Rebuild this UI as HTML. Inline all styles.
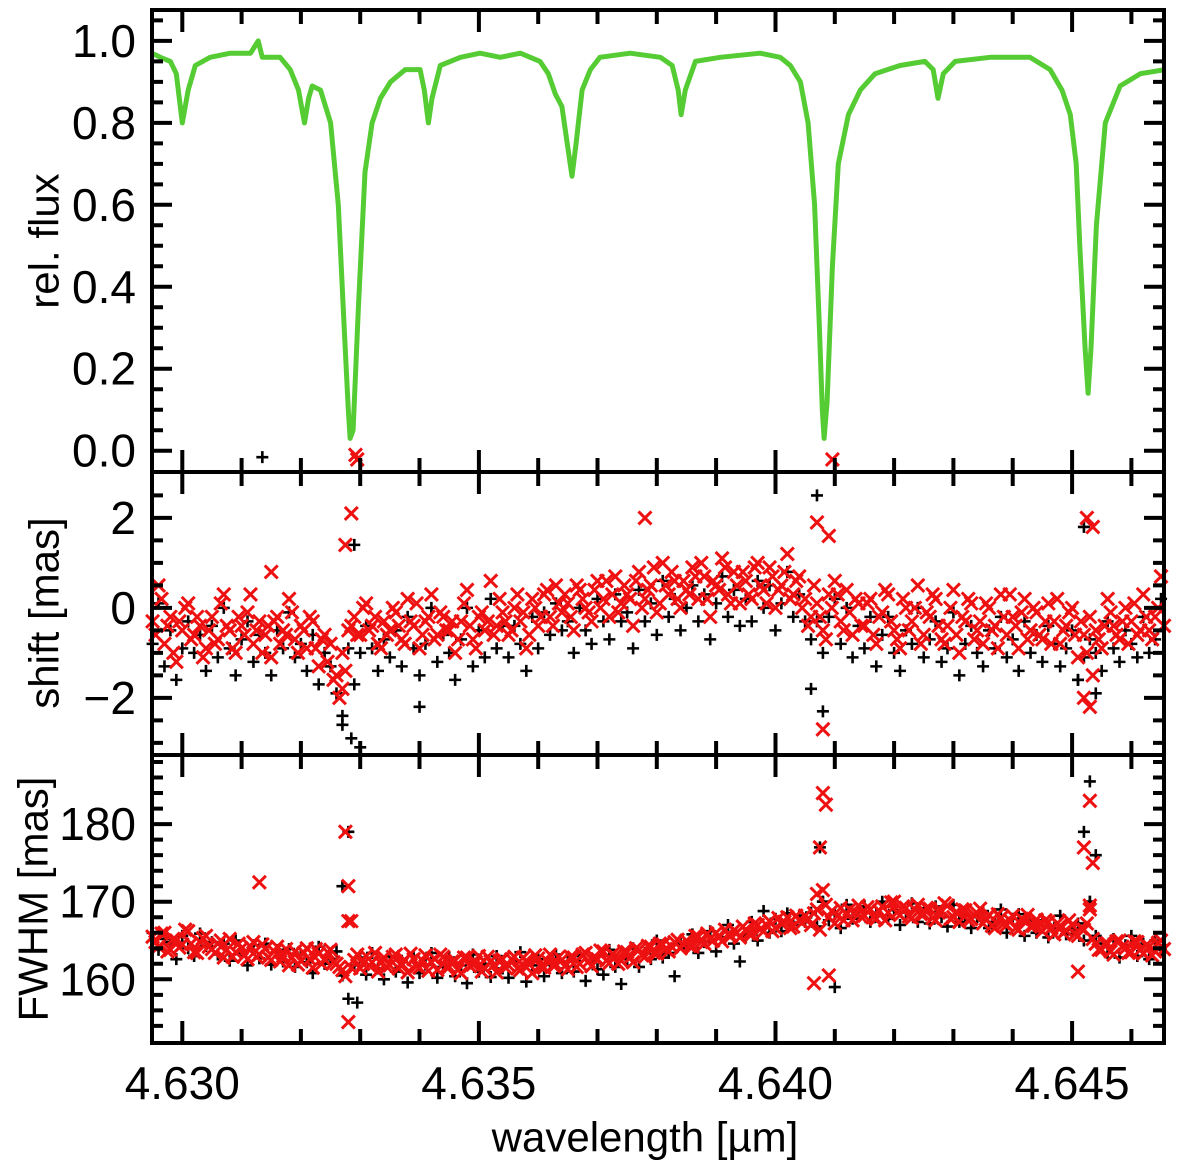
<!DOCTYPE html>
<html><head><meta charset="utf-8"><style>
html,body{margin:0;padding:0;background:#fff;}
svg{display:block;font-family:"Liberation Sans",sans-serif;}
</style></head><body>
<svg id="chart" width="1200" height="1167" viewBox="0 0 1200 1167" xmlns="http://www.w3.org/2000/svg"></svg>
<script>
// ---------- data ----------
const specWave = [4.62949,4.62963,4.62980,4.62990,4.63000,4.63010,4.63022,4.63047,4.63081,4.63115,4.63128,4.63135,4.63165,4.63182,4.63196,4.63206,4.63213,4.63219,4.63233,4.63250,4.63263,4.63273,4.63280,4.63283,4.63288,4.63297,4.63308,4.63320,4.63334,4.63351,4.63376,4.63401,4.63408,4.63415,4.63421,4.63435,4.63469,4.63502,4.63536,4.63570,4.63603,4.63617,4.63629,4.63640,4.63650,4.63657,4.63664,4.63674,4.63688,4.63704,4.63755,4.63806,4.63826,4.63836,4.63841,4.63848,4.63865,4.63907,4.63974,4.64008,4.64025,4.64042,4.64055,4.64066,4.64074,4.64079,4.64082,4.64087,4.64096,4.64106,4.64123,4.64143,4.64168,4.64210,4.64252,4.64266,4.64274,4.64283,4.64303,4.64362,4.64429,4.64463,4.64483,4.64497,4.64507,4.64513,4.64522,4.64527,4.64532,4.64541,4.64556,4.64581,4.64615,4.64657];
const specFlux = [0.97,0.96,0.95,0.92,0.80,0.88,0.94,0.96,0.97,0.97,1.0,0.96,0.96,0.93,0.88,0.80,0.86,0.89,0.88,0.80,0.60,0.30,0.10,0.03,0.05,0.35,0.68,0.80,0.86,0.90,0.93,0.93,0.88,0.80,0.86,0.94,0.96,0.97,0.96,0.97,0.95,0.92,0.87,0.84,0.74,0.67,0.75,0.88,0.93,0.96,0.97,0.96,0.94,0.88,0.82,0.88,0.95,0.96,0.97,0.96,0.94,0.90,0.80,0.60,0.30,0.10,0.03,0.12,0.45,0.70,0.82,0.88,0.92,0.94,0.95,0.93,0.86,0.92,0.95,0.96,0.96,0.93,0.88,0.82,0.70,0.50,0.25,0.14,0.25,0.55,0.80,0.89,0.92,0.93];

const gridStart = 4.6295;
const gridStep = 0.0001;
const gridStart2 = 4.62955;

const shiftRed = [-0.3,0.5,-0.8,-0.2,-1.2,-0.5,0.1,-0.6,-0.4,-0.9,
-0.2,-0.7,0.3,-0.5,-1.0,-0.4,-0.1,-0.8,-0.3,-0.6,
-1.1,-0.2,-0.5,0.2,-0.7,-0.4,-0.9,-0.3,-1.3,-0.6,
-0.8,-1.5,-1.8,-0.5,-0.2,-0.6,0.1,-0.4,-0.8,-0.3,
-0.5,-0.1,-0.7,0.2,-0.4,-0.9,-0.3,0.3,-0.6,-0.2,
-0.5,-1.0,-0.3,0.4,-0.7,-0.2,-0.5,0.6,-0.4,-0.1,
-0.6,0.0,-0.3,-0.9,0.2,-0.4,0.3,-0.2,0.5,-0.1,
0.1,-0.5,0.4,0.0,-0.3,0.6,0.2,-0.2,0.7,0.1,
0.3,-0.4,0.8,0.2,0.5,-0.1,1.0,0.3,0.6,0.0,
0.4,0.9,0.2,0.7,-0.2,0.5,1.1,0.3,0.8,0.1,
0.6,0.2,1.0,0.4,0.9,0.0,0.5,1.2,0.3,0.7,
0.2,-0.2,0.1,-0.5,0.3,0.6,-0.3,0.4,-0.6,0.1,
-0.4,0.2,-0.8,-0.1,0.3,-0.5,-0.9,0.0,-0.3,0.5,
-0.6,-0.2,0.2,-0.7,-0.4,0.4,-1.0,-0.3,0.1,-0.5,
-0.8,0.0,-0.4,0.3,-0.6,-0.2,-0.9,0.2,-0.5,-0.1,
-0.7,0.1,-0.3,-0.8,-0.4,0.0,-1.1,-0.6,-0.2,-0.5,
-0.9,0.2,-0.4,-0.7,0.0,-0.3,-0.6,0.3,-0.5,-0.2,0.7];
const shiftRed2 = [-0.6,0.2,-0.4,-1.0,-0.3,0.0,-0.7,-0.2,-1.1,-0.5,
-0.8,0.1,-0.4,-0.9,-0.2,-0.6,0.3,-0.5,-1.0,-0.4,
-0.3,-0.8,-0.6,-0.1,-1.0,-0.5,-0.2,-0.9,-0.7,-1.2,
-1.6,-2.0,-1.4,-0.4,-0.6,0.0,-0.5,-0.2,-0.9,-0.6,
0.0,-0.4,-0.8,-0.3,0.1,-0.6,-0.2,-0.7,-0.1,-0.5,
-0.3,-0.7,0.1,-0.4,-0.9,-0.1,-0.3,-0.6,0.2,-0.3,
-0.5,0.3,-0.1,-0.6,0.0,-0.2,0.4,-0.4,0.1,0.3,
-0.2,0.5,0.2,-0.1,0.4,0.0,0.6,0.3,-0.1,0.5,
0.2,0.6,0.0,0.4,0.9,0.1,0.5,0.8,0.2,0.6,
0.3,0.7,1.0,0.2,0.6,0.4,0.9,0.1,0.5,0.8,
0.3,0.9,0.5,0.1,0.7,0.4,0.8,0.2,0.6,0.0,
-0.4,0.5,-0.2,-0.7,0.0,0.3,-0.5,-0.1,0.2,-0.4,
0.1,-0.6,-0.2,0.4,-0.3,-0.7,0.2,-0.5,0.0,-0.8,
-0.1,0.3,-0.4,-0.8,0.0,-0.6,-0.2,0.2,-0.7,-0.3,
0.1,-0.5,-0.9,-0.2,0.3,-0.4,-0.1,-0.7,0.0,-0.6,
-0.3,-0.8,0.2,-0.5,-0.1,-0.6,-0.3,-1.0,-1.5,-0.7,
-0.4,-0.1,-0.6,-0.3,-0.8,0.1,-0.5,-0.2,-0.7,0.0,-0.4];
const shiftBlack = [-0.8,0.1,-1.3,-0.5,-1.6,-0.9,-0.3,-1.0,-0.6,-1.4,
-0.4,-1.1,0.0,-0.9,-1.5,-0.7,-0.3,-1.2,-0.6,-1.0,
-1.5,-0.5,-0.9,-0.1,-1.1,-0.8,-1.4,-0.6,-1.7,-1.0,
-1.3,-1.9,-2.4,-0.9,-1.7,-1.0,-0.4,-0.9,-1.4,-0.7,
-1.1,-0.5,-1.3,-0.2,-0.9,-1.5,-0.8,0.0,-1.2,-0.6,
-1.0,-1.6,-0.7,0.0,-1.3,-0.5,-1.1,0.2,-0.9,-0.4,
-1.1,-0.4,-0.8,-1.4,-0.2,-0.9,-0.1,-0.6,0.1,-0.5,
-0.3,-1.0,0.0,-0.5,-0.8,0.2,-0.3,-0.7,0.3,-0.3,
-0.1,-0.9,0.4,-0.3,0.1,-0.6,0.6,-0.2,0.2,-0.5,
0.0,0.5,-0.3,0.3,-0.7,0.1,0.7,-0.2,0.4,-0.4,
0.2,-0.3,0.6,0.0,0.5,-0.5,0.1,0.8,-0.2,0.3,
-0.3,-0.7,-0.3,-1.0,-0.2,0.2,-0.8,0.0,-1.1,-0.4,
-0.9,-0.2,-1.3,-0.6,-0.2,-1.0,-1.4,-0.5,-0.8,0.0,
-1.1,-0.7,-0.3,-1.2,-0.9,-0.1,-1.5,-0.8,-0.4,-1.0,
-1.3,-0.5,-0.9,-0.2,-1.1,-0.7,-1.4,-0.3,-1.0,-0.6,
-1.2,-0.4,-0.8,-1.3,-0.9,-0.5,-1.6,-1.1,-0.7,-1.0,
-1.4,-0.3,-0.9,-1.2,-0.5,-0.8,-1.1,-0.2,-1.0,-0.7,0.2];
const fwhmRed = [165.5,164.2,166.0,163.8,165.0,164.5,166.2,163.5,164.8,165.6,
163.9,164.6,162.8,165.2,163.5,164.0,162.6,164.8,163.2,163.9,
162.5,164.2,163.0,161.8,163.6,162.4,164.0,161.5,163.3,162.6,
163.8,162.0,161.2,167.5,162.5,161.4,163.0,162.2,161.0,162.8,
161.8,163.2,162.0,160.9,162.6,161.5,163.1,162.2,161.2,162.9,
161.6,162.4,160.8,162.8,161.9,163.0,161.4,162.3,160.9,162.6,
161.8,162.9,161.2,162.4,160.8,162.7,161.5,163.2,161.9,162.5,
161.3,162.8,162.0,163.4,161.7,162.6,163.6,162.1,163.0,162.4,
163.5,162.2,163.8,162.9,164.2,163.3,164.5,163.6,164.8,164.0,
165.0,164.2,165.5,164.6,165.2,166.0,164.9,165.8,166.3,165.4,
166.4,165.8,167.0,166.2,167.5,166.6,167.2,168.0,166.8,167.6,
168.2,167.0,169.0,171.5,168.0,167.2,169.2,168.4,167.6,169.5,
168.2,169.0,167.8,169.4,168.6,170.0,168.3,169.2,167.9,169.6,
168.4,169.1,167.6,168.8,169.5,168.0,167.4,168.9,167.8,168.5,
167.2,168.3,166.6,167.9,167.0,168.2,166.4,167.5,166.8,167.7,
166.2,167.4,165.8,166.9,166.3,167.0,165.6,166.4,169.0,164.6,
163.8,164.6,163.2,165.0,164.0,163.5,164.8,163.3,164.2,163.6,165.0];
const fwhmRed2 = [164.8,165.9,163.6,165.2,164.1,166.4,164.6,163.4,165.3,164.2,
163.4,165.0,163.8,162.9,164.6,163.1,164.2,162.9,164.5,162.8,
163.6,162.3,163.9,162.8,161.9,163.4,162.6,163.9,162.0,163.5,
162.2,161.6,160.4,161.5,163.2,162.0,161.8,163.4,162.1,161.6,
162.9,161.4,162.5,163.3,161.7,162.4,161.1,162.7,163.2,161.6,
162.3,161.2,162.8,161.7,162.2,161.0,162.9,161.8,162.4,161.5,
162.6,161.4,162.8,161.9,163.1,161.6,162.4,161.8,162.9,161.7,
162.9,161.6,163.2,162.3,162.8,163.7,162.4,163.2,162.0,163.6,
162.8,164.0,163.1,164.3,163.4,164.6,163.9,164.2,165.1,164.5,
164.3,165.6,164.8,165.9,165.0,165.4,166.4,165.6,166.0,166.8,
165.9,167.2,166.5,167.0,166.2,167.9,167.4,166.6,168.2,167.3,
167.8,168.5,166.4,169.6,168.8,168.2,167.6,169.0,168.6,168.0,
169.3,168.0,168.8,167.6,169.9,168.6,169.4,168.1,169.0,168.4,
169.2,167.9,168.6,169.8,167.8,168.7,169.0,167.6,168.3,169.1,
167.8,166.9,168.4,167.2,167.6,166.6,167.8,168.3,166.9,167.2,
167.6,166.6,167.2,166.0,167.6,165.8,166.6,167.2,165.2,163.8,
164.6,163.6,164.9,164.2,163.4,164.9,163.8,164.4,163.1,164.7,163.9];
const fwhmBlack = [166.0,163.8,165.2,164.8,162.6,165.6,164.0,163.0,165.9,164.3,
164.8,163.2,164.6,162.4,165.0,163.4,161.8,164.4,162.7,164.6,
161.9,163.8,162.3,163.9,161.6,163.2,162.2,160.8,164.2,162.0,
162.6,163.6,160.5,157.5,161.8,162.8,160.6,163.4,161.4,160.0,
162.9,161.0,162.4,159.6,163.0,160.8,161.9,163.4,160.2,161.6,
162.8,160.4,161.8,159.5,163.2,161.0,162.0,160.3,163.0,161.4,
160.2,162.4,163.5,159.7,161.8,162.6,160.4,161.9,163.2,160.8,
162.3,161.0,163.0,159.8,162.4,161.3,160.6,163.8,161.6,159.4,
162.6,164.0,161.6,163.4,162.6,165.0,162.8,163.4,160.4,164.6,
164.0,165.8,163.4,164.8,166.2,163.6,165.4,167.0,164.6,162.3,
165.6,167.4,165.0,168.8,166.0,167.8,166.2,168.5,167.0,168.2,
167.4,168.6,166.8,170.0,167.6,168.4,166.6,169.6,167.8,168.8,
169.4,167.4,168.6,170.0,167.8,168.9,167.0,168.6,169.8,167.4,
168.6,167.2,169.4,168.0,166.8,169.6,167.4,168.2,166.6,168.0,
168.8,166.6,167.4,169.0,166.0,167.8,168.4,165.6,167.2,166.0,
167.6,165.4,166.6,168.2,165.8,166.4,167.2,165.0,170.0,165.6,
164.6,163.4,165.2,162.8,164.4,165.6,163.0,164.6,162.6,165.0,163.8];

const shiftRedSpikeWave = [4.63275,4.63285,4.63270,4.63292,4.63295,4.64070,4.64090,4.64080,4.64096,4.64525,4.64535,4.64520,4.64530,4.63780,4.63150];
const shiftRedSpikeVal  = [1.4,2.1,-1.0,3.4,3.3,1.9,1.6,-2.7,3.3,2.0,1.8,-2.0,-2.2,2.0,0.8];
const shiftBlackSpikeWave = [4.63290,4.63270,4.63285,4.63300,4.63135,4.64070,4.64080,4.64060,4.64520,4.64510,4.64540,4.63400];
const shiftBlackSpikeVal  = [1.4,-2.6,-2.9,-3.1,3.35,2.5,-2.3,-1.8,1.8,-1.6,-1.9,-2.2];
const fwhmRedSpikeWave = [4.63275,4.63280,4.63285,4.63280,4.63130,4.64075,4.64080,4.64085,4.64070,4.64090,4.64065,4.64530,4.64520,4.64535,4.64530,4.64510];
const fwhmRedSpikeVal  = [179,172,167.5,154.5,172.5,177,184,182.5,171,160.5,159.5,183,177,175,169.5,161];
const fwhmBlackSpikeWave = [4.63280,4.63270,4.63295,4.64075,4.64080,4.64100,4.64530,4.64520,4.64540,4.64530];
const fwhmBlackSpikeVal  = [179,172,157,177,170,159,185.5,179,176,170];

const xTickLabels = ["4.630","4.635","4.640","4.645"];
const fluxTickLabels = ["0.0","0.2","0.4","0.6","0.8","1.0"];
const shiftTickLabels = ["−2","0","2"];
const fwhmTickLabels = ["160","170","180"];

// ---------- geometry ----------
const L = 152, R = 1164;
const P1 = {top:10, bot:472}, P2 = {top:472, bot:755}, P3 = {top:755, bot:1043};
const W0 = 4.62949, W1 = 4.64655;
function X(w){ return L + (w - W0) / (W1 - W0) * (R - L); }
const fluxMin = -0.052, fluxMax = 1.0755;
function Y1(v){ return P1.bot - (v - fluxMin) / (fluxMax - fluxMin) * (P1.bot - P1.top); }
const shMin = -3.27, shMax = 3.02;
function Y2(v){ return P2.bot - (v - shMin) / (shMax - shMin) * (P2.bot - P2.top); }
const fwMin = 151.8, fwMax = 188.9;
function Y3(v){ return P3.bot - (v - fwMin) / (fwMax - fwMin) * (P3.bot - P3.top); }

const svg = document.getElementById('chart');
const NS = 'http://www.w3.org/2000/svg';
function mk(tag, attrs, parent){
  const e = document.createElementNS(NS, tag);
  for (const k in attrs) e.setAttribute(k, attrs[k]);
  (parent || svg).appendChild(e);
  return e;
}

// ---------- spectrum ----------
const gSpec = mk('g', {});


let d = '';
for (let i = 0; i < specWave.length; i++) {
  d += (i ? 'L' : 'M') + X(specWave[i]).toFixed(1) + ' ' + Y1(specFlux[i]).toFixed(1);
}
const specPath = mk('path', {d: d, fill: 'none', stroke: '#55cc33', 'stroke-width': 5, 'stroke-linejoin': 'round'}, gSpec);



// ---------- markers ----------
function plus(g, x, y){
  const p = mk('path', {d: `M${x-6} ${y}H${x+6}M${x} ${y-6}V${y+6}`, stroke: '#000', 'stroke-width': 2.6, fill: 'none'}, g);
  
  
}
function cross(g, x, y){
  const p = mk('path', {d: `M${x-6.5} ${y-6.5}L${x+6.5} ${y+6.5}M${x-6.5} ${y+6.5}L${x+6.5} ${y-6.5}`, stroke: '#ee1111', 'stroke-width': 3, fill: 'none'}, g);
  
  
}
function gridW(i){ return gridStart + i * gridStep; }
function gridW2(i){ return gridStart2 + i * gridStep; }

const gShift = mk('g', {});


shiftBlack.forEach((v, i) => plus(gShift, X(gridW(i)), Y2(v)));
shiftBlackSpikeWave.forEach((w, i) => plus(gShift, X(w), Y2(shiftBlackSpikeVal[i])));
shiftRed.forEach((v, i) => cross(gShift, X(gridW(i)), Y2(v)));
shiftRed2.forEach((v, i) => cross(gShift, X(gridW2(i)), Y2(v)));
shiftRedSpikeWave.forEach((w, i) => cross(gShift, X(w), Y2(shiftRedSpikeVal[i])));

const gFw = mk('g', {});


fwhmBlack.forEach((v, i) => plus(gFw, X(gridW(i)), Y3(v)));
fwhmBlackSpikeWave.forEach((w, i) => plus(gFw, X(w), Y3(fwhmBlackSpikeVal[i])));
fwhmRed.forEach((v, i) => cross(gFw, X(gridW(i)), Y3(v)));
fwhmRed2.forEach((v, i) => cross(gFw, X(gridW2(i)), Y3(v)));
fwhmRedSpikeWave.forEach((w, i) => cross(gFw, X(w), Y3(fwhmRedSpikeVal[i])));

// ---------- axes ----------
const gAx = mk('g', {stroke: '#000', 'stroke-width': 4, fill: 'none'});


mk('rect', {x: L, y: P1.top, width: R - L, height: P3.bot - P1.top}, gAx);
mk('line', {x1: L, x2: R, y1: P2.top, y2: P2.top}, gAx);
mk('line', {x1: L, x2: R, y1: P3.top, y2: P3.top}, gAx);

let td = '';
for (let k = 0; k <= 16; k++) {
  const w = 4.630 + k * 0.001;
  if (w > W1) break;
  const x = X(w).toFixed(1);
  const major = (k % 5 === 0);
  const len = major ? 22 : 14;
  [P1, P2, P3].forEach(P => {
    td += `M${x} ${P.top}v${len}M${x} ${P.bot}v${-len}`;
  });
}
function yTicks(P, Yf, vmin, vmax, minorStep, majorStep){
  const n0 = Math.ceil(vmin / minorStep - 1e-9), n1 = Math.floor(vmax / minorStep + 1e-9);
  for (let n = n0; n <= n1; n++) {
    const v = n * minorStep;
    const y = Yf(v);
    if (y < P.top + 3 || y > P.bot - 3) continue;
    const major = Math.abs(v / majorStep - Math.round(v / majorStep)) < 1e-6;
    const len = major ? 20 : 11;
    td += `M${L} ${y.toFixed(1)}h${len}M${R} ${y.toFixed(1)}h${-len}`;
  }
}
yTicks(P1, Y1, fluxMin, fluxMax, 0.05, 0.2);
yTicks(P2, Y2, shMin, shMax, 0.5, 2);
yTicks(P3, Y3, fwMin, fwMax, 2, 10);
const ticks = mk('path', {d: td}, gAx);



// ---------- labels ----------
function txt(s, x, y, anchor, name, extra){
  const t = mk('text', Object.assign({x: x, y: y, 'text-anchor': anchor, 'font-size': 46, fill: '#000', 'dominant-baseline': 'central'}, extra || {}));
  t.textContent = s;
  
  
  return t;
}
xTickLabels.forEach(s => txt(s, X(parseFloat(s)), 1083, 'middle', 'x-tick-label'));
fluxTickLabels.forEach(s => txt(s, 136, Y1(parseFloat(s)), 'end', 'flux-tick-label'));
shiftTickLabels.forEach(s => txt(s, 136, Y2(parseFloat(s.replace('−', '-'))), 'end', 'shift-tick-label'));
fwhmTickLabels.forEach(s => txt(s, 136, Y3(parseFloat(s)), 'end', 'fwhm-tick-label'));

txt('wavelength [µm]', 645, 1137, 'middle', 'x-axis-title', {'font-size': 42});
txt('rel. flux', 44, 241, 'middle', 'flux-axis-title', {'font-size': 42, transform: 'rotate(-90 44 241)'});
txt('shift [mas]', 44, 613, 'middle', 'shift-axis-title', {'font-size': 42, transform: 'rotate(-90 44 613)'});
txt('FWHM [mas]', 33, 899, 'middle', 'fwhm-axis-title', {'font-size': 42, transform: 'rotate(-90 33 899)'});
</script>
</body></html>
